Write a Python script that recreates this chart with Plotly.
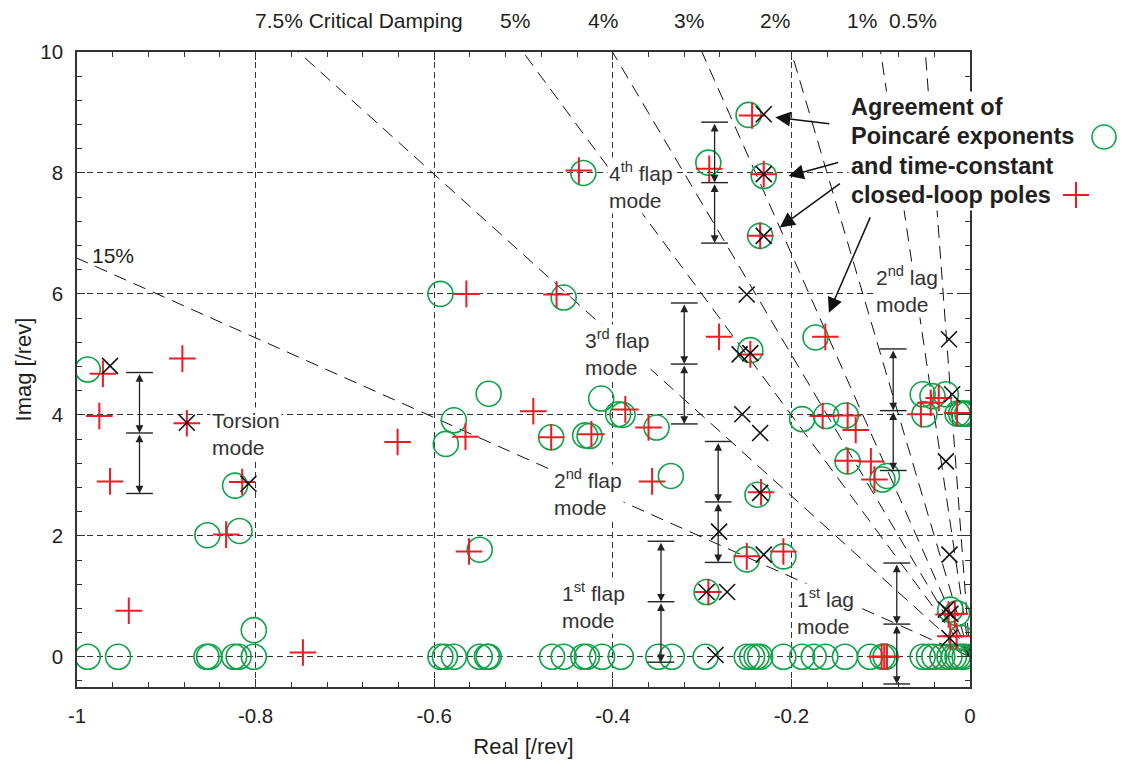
import math
import plotly.graph_objects as go

# ---------------------------------------------------------------
# Data: eigenvalues in the complex plane (real / imag, per rev)
# ---------------------------------------------------------------
# Poincaré exponents (green circles)
poincare_re = [-0.988, -0.988, -0.954, -0.855, -0.852, -0.824, -0.819, -0.802, -0.802,
               -0.854, -0.818, -0.823,
               -0.593, -0.539, -0.578, -0.587, -0.549,
               -0.593, -0.588, -0.578, -0.549, -0.541, -0.539,
               -0.413, -0.394, -0.389, -0.351, -0.469, -0.431, -0.426, -0.335, -0.295,
               -0.468, -0.455, -0.433, -0.429, -0.412, -0.391, -0.349, -0.334, -0.296,
               -0.250, -0.244, -0.239, -0.235,
               -0.433, -0.293, -0.248, -0.231, -0.235, -0.455, -0.246, -0.173,
               -0.188, -0.161, -0.139, -0.137, -0.238, -0.250, -0.209,
               -0.209, -0.188, -0.175, -0.162, -0.140, -0.112,
               -0.093, -0.098,
               -0.053, -0.042, -0.027, -0.051, -0.014, -0.010, -0.007, -0.003,
               -0.022, -0.0145, -0.010,
               -0.098, -0.0945, -0.053, -0.046, -0.040, -0.031, -0.023, -0.018, -0.014,
               -0.010, -0.006]
poincare_im = [4.75, 0.0, 0.0, 0.0, 0.0, 0.0, 0.0, 0.0, 0.44,
               2.01, 2.08, 2.83,
               6.00, 4.35, 3.91, 3.52, 1.77,
               0.0, 0.0, 0.0, 0.0, 0.0, 0.0,
               4.27, 4.01, 4.00, 3.79, 3.63, 3.66, 3.65, 2.99, 1.07,
               0.0, 0.0, 0.0, 0.0, 0.0, 0.0, 0.0, 0.0, 0.0,
               0.0, 0.0, 0.0, 0.0,
               8.00, 8.17, 8.96, 7.95, 6.96, 5.94, 5.07, 5.28,
               3.93, 3.98, 3.99, 3.23, 2.68, 1.61, 1.66,
               0.0, 0.0, 0.0, 0.0, 0.0, 0.0,
               2.99, 2.93,
               4.34, 4.31, 4.34, 4.01, 4.02, 4.02, 4.02, 4.02,
               0.78, 0.72, 0.31,
               0.0, 0.0, 0.0, 0.0, 0.0, 0.0, 0.0, 0.0, 0.0,
               0.0, 0.0]

# Time-constant closed-loop poles (red plus)
closed_loop_re = [-0.971, -0.882, -0.975, -0.963, -0.877, -0.815, -0.833, -0.942, -0.747,
                  -0.564, -0.641, -0.565, -0.561, -0.489, -0.386, -0.360, -0.469, -0.424,
                  -0.356, -0.293, -0.250,
                  -0.438, -0.292, -0.244, -0.231, -0.235, -0.463, -0.281, -0.246, -0.162,
                  -0.165, -0.137, -0.128, -0.137, -0.234, -0.209, -0.111, -0.107,
                  -0.044, -0.035, -0.055, -0.0145,
                  -0.099, -0.096, -0.093,
                  -0.024, -0.017, -0.022, -0.015]
closed_loop_im = [4.68, 4.93, 3.98, 2.90, 3.86, 2.89, 2.02, 0.76, 0.07,
                  6.00, 3.55, 3.64, 1.74, 4.06, 4.09, 3.79, 3.63, 3.68,
                  2.90, 1.07, 1.66,
                  8.04, 8.07, 8.95, 7.98, 6.96, 5.99, 5.29, 5.00, 5.29,
                  3.98, 3.99, 3.75, 3.24, 2.72, 1.74, 3.23, 2.93,
                  4.20, 4.28, 4.01, 4.03,
                  0.0, 0.0, 0.0,
                  0.70, 0.71, 0.34, 0.34]

# Time-periodic poles (black crosses)
periodic_re = [-0.963, -0.877, -0.808,
               -0.255, -0.235, -0.281, -0.272, -0.295, -0.285, -0.235, -0.231,
               -0.231, -0.231, -0.231, -0.250, -0.258, -0.246,
               -0.0235, -0.020, -0.027, -0.023, -0.027, -0.022, -0.023]
periodic_im = [4.81, 3.87, 2.86,
               4.01, 3.70, 2.07, 1.07, 1.07, 0.03, 2.71, 1.69,
               8.97, 7.98, 6.96, 5.99, 5.00, 5.02,
               5.25, 4.34, 3.23, 1.69, 0.78, 0.71, 0.31]

# Lines of constant critical damping [%]
damping_pct = [15, 7.5, 5, 4, 3, 2, 1, 0.5]

# 1/rev spacing bars: real-axis position and the three cap levels of each bar
spacing_re = [-0.930, -0.286, -0.320, -0.282, -0.346, -0.082, -0.086]
spacing_caps = [[4.70, 3.70, 2.70],
                [8.84, 7.84, 6.84],
                [5.85, 4.84, 3.85],
                [3.56, 2.56, 1.56],
                [1.91, 0.91, -0.09],
                [1.55, 0.54, -0.45],
                [5.09, 4.07, 3.08]]

# Mode labels: text, anchor (real, imag)
mode_labels = ["Torsion<br>mode", "4<sup>th</sup> flap<br>mode", "3<sup>rd</sup> flap<br>mode",
               "2<sup>nd</sup> flap<br>mode", "1<sup>st</sup> flap<br>mode",
               "1<sup>st</sup> lag<br>mode", "2<sup>nd</sup> lag<br>mode"]
mode_label_re = [-0.851, -0.407, -0.433, -0.468, -0.459, -0.196, -0.107]
mode_label_im = [3.68, 7.79, 5.03, 2.71, 0.85, 0.75, 6.07]

# Callout arrows from the legend text: tail (re, im) -> head (re, im)
callout_tail_re = [-0.156, -0.146, -0.144, -0.111]
callout_tail_im = [8.81, 8.18, 7.84, 7.29]
callout_head_re = [-0.218, -0.203, -0.213, -0.158]
callout_head_im = [8.92, 7.95, 7.10, 5.69]

# Damping labels along the top edge (text, real position)
top_labels = ["7.5% Critical Damping", "5%", "4%", "3%", "2%", "1%", "0.5%"]
top_label_re = [-0.684, -0.509, -0.411, -0.315, -0.218, -0.121, -0.064]

legend_lines = ["Agreement of", "Poincaré exponents", "and time-constant", "closed-loop poles"]

x_ticks = [-1, -0.8, -0.6, -0.4, -0.2, 0]
x_ticktext = ["-1", "-0.8", "-0.6", "-0.4", "-0.2", "0"]
y_ticks = [0, 2, 4, 6, 8, 10]
y_ticktext = ["0", "2", "4", "6", "8", "10"]

# ---------------------------------------------------------------
# Styling
# ---------------------------------------------------------------
FONT = "Liberation Sans, Arial, Helvetica, sans-serif"
INK = "#231f20"
GREEN = "#10a34a"
RED = "#ec1c24"
BLACK = "#111111"
XMIN, XMAX = -1.0, 0.0
YMIN, YMAX = -0.5, 10.0
W, H = 1127, 771
ML, MR, MT, MB = 77, 157, 52, 84
PW, PH = W - ML - MR, H - MT - MB


def px_to_data(px, py):
    """Convert a page pixel position to data coordinates of the main axes."""
    x = XMIN + (px - ML) / PW * (XMAX - XMIN)
    y = YMAX - (py - MT) / PH * (YMAX - YMIN)
    return x, y


def px_to_paper(px, py):
    """Convert a page pixel position to paper coordinates."""
    return (px - ML) / PW, (H - MB - py) / PH


CIRCLE = dict(symbol="circle-open", size=25, color=GREEN, line=dict(width=1.6))
PLUS = dict(symbol="cross-thin-open", size=19, color=RED, line=dict(width=2))
CROSS = dict(symbol="x-thin-open", size=16, color=BLACK, line=dict(width=1.6))

fig = go.Figure()

# Constant-damping rays from the origin, clipped to the plot frame
ray_x, ray_y = [], []
for pct in damping_pct:
    z = pct / 100.0
    k = math.sqrt(1 - z * z) / z
    if k * (-XMIN) >= YMAX:
        ex, ey = -YMAX / k, YMAX
    else:
        ex, ey = XMIN, -k * XMIN
    ray_x += [0.0, ex, None]
    ray_y += [0.0, ey, None]
fig.add_trace(go.Scatter(x=ray_x, y=ray_y, mode="lines",
                         line=dict(color=BLACK, width=1, dash="13px,8px"),
                         hoverinfo="skip", showlegend=False))

fig.add_trace(go.Scatter(x=poincare_re, y=poincare_im, mode="markers",
                         marker=CIRCLE, showlegend=False))
fig.add_trace(go.Scatter(x=closed_loop_re, y=closed_loop_im, mode="markers",
                         marker=PLUS, showlegend=False))
fig.add_trace(go.Scatter(x=periodic_re, y=periodic_im, mode="markers",
                         marker=CROSS, showlegend=False))

shapes = []
annotations = []

# Legend keys to the right of the legend text (outside the plot frame)
cx, cy = px_to_paper(1104, 137)
shapes.append(dict(type="circle", xref="paper", yref="paper",
                   xsizemode="pixel", ysizemode="pixel", xanchor=cx, yanchor=cy,
                   x0=-12, x1=12, y0=-12, y1=12, line=dict(color=GREEN, width=1.6)))
px_, py_ = px_to_paper(1076, 195)
for dx0, dx1, dy0, dy1 in [(-13, 13, 0, 0), (0, 0, -13, 13)]:
    shapes.append(dict(type="line", xref="paper", yref="paper",
                       xsizemode="pixel", ysizemode="pixel", xanchor=px_, yanchor=py_,
                       x0=dx0, x1=dx1, y0=dy0, y1=dy1, line=dict(color=RED, width=2)))

# 1/rev spacing bars: caps plus double-headed arrows between them
CAP_HALF = 0.015
for xr, caps in zip(spacing_re, spacing_caps):
    for c in caps:
        shapes.append(dict(type="line", xref="x", yref="y",
                           x0=xr - CAP_HALF, x1=xr + CAP_HALF, y0=c, y1=c,
                           line=dict(color="#222", width=1.4)))
    for a, b in zip(caps[:-1], caps[1:]):
        annotations.append(dict(x=xr, y=b, ax=xr, ay=a, xref="x", yref="y",
                                axref="x", ayref="y", text="", showarrow=True,
                                arrowhead=2, startarrowhead=2, arrowside="end+start",
                                arrowsize=1.2, startarrowsize=1.2, arrowwidth=1.3,
                                arrowcolor="#222", standoff=0, startstandoff=0))

# Mode labels (white box hides the guide lines behind them)
for txt, xr, yi in zip(mode_labels, mode_label_re, mode_label_im):
    annotations.append(dict(x=xr, y=yi, xref="x", yref="y", text=txt, showarrow=False,
                            xanchor="left", yanchor="middle", align="left",
                            bgcolor="white", borderpad=1,
                            font=dict(family=FONT, size=21, color="#333")))

annotations.append(dict(x=-0.985, y=6.63, xref="x", yref="y", text="15%",
                        showarrow=False, xanchor="left", yanchor="middle",
                        font=dict(family=FONT, size=21, color=INK)))

for txt, xr in zip(top_labels, top_label_re):
    annotations.append(dict(x=xr, y=1 + (MT - 20) / PH, xref="x", yref="paper",
                            text=txt, showarrow=False, xanchor="center", yanchor="middle",
                            font=dict(family=FONT, size=21, color=INK)))

# Callout arrows from the legend
for tx, ty, hx, hy in zip(callout_tail_re, callout_tail_im, callout_head_re, callout_head_im):
    annotations.append(dict(x=hx, y=hy, ax=tx, ay=ty, xref="x", yref="y",
                            axref="x", ayref="y", text="", showarrow=True,
                            arrowhead=2, arrowsize=2.0, arrowwidth=1.5,
                            arrowcolor=BLACK, standoff=0))

# Legend text, one line per annotation
for i, line in enumerate(legend_lines):
    lx, ly = px_to_data(848, 107 + i * 29.4)
    annotations.append(dict(x=lx, y=ly, xref="x", yref="y", text="<b>%s</b>" % line,
                            showarrow=False, xanchor="left", yanchor="middle",
                            bgcolor="white", borderpad=2,
                            font=dict(family=FONT, size=23.5, color=INK)))

axis_common = dict(showline=True, linecolor="#333", linewidth=1.5, mirror="allticks",
                   ticks="inside", ticklen=8, tickwidth=1.2, tickcolor="#333",
                   showgrid=True, gridcolor="#333", gridwidth=1, griddash="6px,4px",
                   zeroline=False,
                   tickfont=dict(family=FONT, size=20.5, color=INK))

fig.update_xaxes(range=[XMIN, XMAX], tickvals=x_ticks, ticktext=x_ticktext,
                 minor=dict(dtick=0.04, tick0=-1, ticks="inside", ticklen=5,
                            tickcolor="#333", showgrid=False),
                 ticklabelstandoff=10,
                 title=dict(text="Real [/rev]", standoff=12,
                            font=dict(family=FONT, size=22, color=INK)),
                 **axis_common)
fig.update_yaxes(range=[YMIN, YMAX], tickvals=y_ticks, ticktext=y_ticktext,
                 minor=dict(dtick=0.4, tick0=0, ticks="inside", ticklen=5,
                            tickcolor="#333", showgrid=False),
                 ticklabelstandoff=8,
                 title=dict(text="Imag [/rev]", standoff=3,
                            font=dict(family=FONT, size=22, color=INK)),
                 **axis_common)

fig.update_layout(width=W, height=H, margin=dict(l=ML, r=MR, t=MT, b=MB),
                  paper_bgcolor="white", plot_bgcolor="white",
                  shapes=shapes, annotations=annotations, showlegend=False,
                  font=dict(family=FONT, color=INK))

fig.write_html("out.html")
